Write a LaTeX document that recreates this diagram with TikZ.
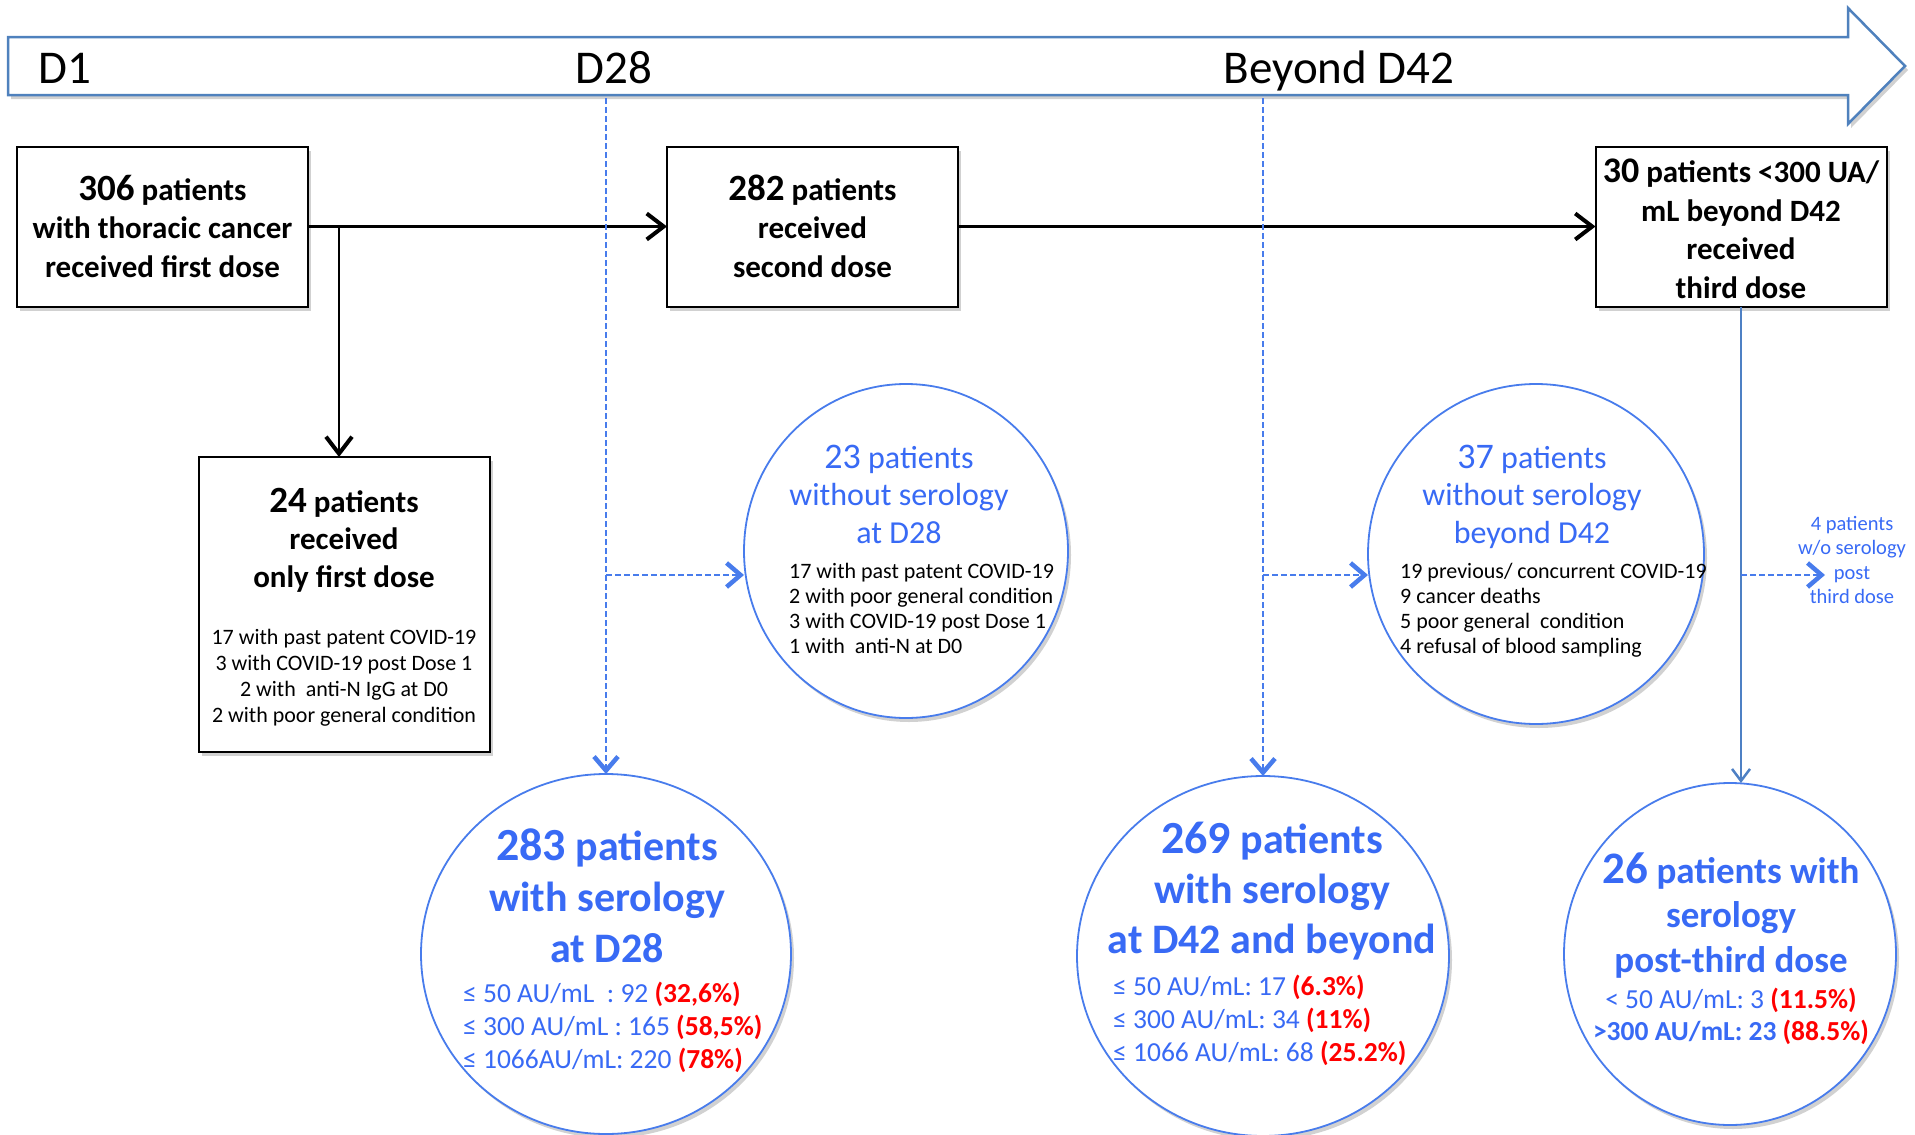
\documentclass[tikz,border=0pt]{standalone}
\usepackage{fontspec}
\setmainfont{Carlito}
\usetikzlibrary{arrows.meta,shapes.geometric,shadows}

\definecolor{tblue}{RGB}{56,106,245}
\definecolor{ringblue}{RGB}{72,124,236}
\definecolor{steel}{RGB}{79,129,189}
\definecolor{pct}{RGB}{255,0,0}

\newcommand\setsz[2]{\fontsize{#1}{#2}\selectfont}
\newcommand\pc[1]{\textcolor{pct}{\textbf{#1}}}

% multi-line labels sit on the baseline of their last line
\tikzset{
  softshadow/.style={drop shadow={shadow xshift=3pt, shadow yshift=-4pt, opacity=.18, fill=black}},
  box/.style={draw, line width=2pt, fill=white, minimum width=291pt, minimum height=160pt,
    inner sep=0pt, outer sep=0pt, softshadow},
  ring/.style={ellipse, draw=ringblue, line width=1.8pt, fill=white, inner sep=0pt, outer sep=0pt, softshadow},
  lbl/.style={inner sep=0pt, anchor=base, align=center},
  boxtext/.style={lbl, font=\bfseries\setsz{31}{38.5}},
  flow/.style={line width=2.5pt, -{Straight Barb[length=17pt,width=26pt,line width=4pt]}},
  dashlink/.style={ringblue, line width=1.6pt, dash pattern=on 6pt off 3pt,
    -{Straight Barb[length=14pt,width=24pt,line width=4.5pt]}},
  steellink/.style={steel!85!ringblue, line width=2pt, -{Straight Barb[length=12pt,width=18pt,line width=2.5pt]}},
}

\begin{document}
\begin{tikzpicture}[x=1pt,y=-1pt]
\useasboundingbox (0,0) rectangle (1915,1135);

% time line
\draw[steel, line width=2.5pt, fill=white, softshadow] (8,37) -- (1848,37) -- (1848,8) -- (1905,66)
  -- (1848,124) -- (1848,95) -- (8,95) -- cycle;
\node[lbl, anchor=base west, font=\setsz{47}{56}] (d1) at (38,83) {D1};
\node[lbl, font=\setsz{47}{56}] (d28) at (614,83) {D28};
\node[lbl, font=\setsz{47}{56}] (d42) at (1339,83) {Beyond D42};

% boxes
\node[box] (b306) at (162.5,226.5) {};
\node[box] (b282) at (812.5,226.5) {};
\node[box] (b30) at (1741,226.5) {};
\node[box, minimum height=295pt] (b24) at (344.5,604.5) {};

% circles
\node[ring, minimum width=324pt, minimum height=334pt] (c23) at (906,551) {};
\node[ring, minimum width=336pt, minimum height=340pt] (c37) at (1536,554) {};
\node[ring, minimum width=370pt, minimum height=360pt] (c283) at (606,954) {};
\node[ring, minimum width=372pt, minimum height=360pt] (c269) at (1263,956) {};
\node[ring, minimum width=332pt, minimum height=342pt] (c26) at (1730,954) {};

% connectors
\coordinate (split) at (339,0);
\draw[flow] (b306.east) -- (b282.west);
\draw[flow] (split |- b306.east) -- (split |- b24.north);
\draw[flow] (b282.east) -- (b30.west);

\coordinate (top28) at (606,98);
\coordinate (mid28) at (606,575);
\coordinate (top42) at (1263,98);
\coordinate (mid42) at (1263,575);
\coordinate (mid3) at (1741,575);
\coordinate (tip4) at (1825,575);
\draw[dashlink] (top28) -- (top28 |- c283.north);
\draw[dashlink] (mid28) -- (mid28 -| c23.west);
\draw[dashlink] (top42) -- (top42 |- c269.north);
\draw[dashlink] (mid42) -- (mid42 -| c37.west);
\draw[steellink] (b30.south) -- (b30.south |- c26.north);
\draw[dashlink] (mid3) -- (tip4);

% texts
\node[boxtext] (t306) at (162.5,277) {{\setsz{37}{38.5}306} patients\\with thoracic cancer\\received first dose};
\node[boxtext] (t282) at (812.5,277) {{\setsz{37}{38.5}282} patients\\received\\second dose};
\node[boxtext] (t30) at (1741,298) {{\setsz{36}{38.5}30} patients <300 UA/\\mL beyond D42\\received\\third dose};

\node[lbl, font=\bfseries\setsz{31}{37.5}] (t24) at (344,587) {{\setsz{37}{37.5}24} patients\\received\\only first dose};
\node[lbl, font=\setsz{22}{25.7}] (n24) at (344,722) {17 with past patent COVID-19\\3 with COVID-19 post Dose 1\\2 with\ \ anti-N IgG at D0\\2 with poor general condition};

\node[lbl, text=tblue, font=\setsz{32}{37.5}] (t23) at (899,543) {{\setsz{36}{37.5}23} patients\\without serology\\at D28};
\node[lbl, anchor=base west, align=left, font=\setsz{22}{25}] (n23) at (789,653) {17 with past patent COVID-19\\2 with poor general condition\\3 with COVID-19 post Dose 1\\1 with\ \ anti-N at D0};

\node[lbl, text=tblue, font=\setsz{32}{37.5}] (t37) at (1532,543) {{\setsz{36}{37.5}37} patients\\without serology\\beyond D42};
\node[lbl, anchor=base west, align=left, font=\setsz{22}{25}] (n37) at (1400,653) {19 previous/ concurrent COVID-19\\9 cancer deaths\\5 poor general\ \ condition\\4 refusal of blood sampling};

\node[lbl, text=tblue, font=\setsz{20.5}{24.5}] (n4) at (1852,603.5) {4 patients\\w/o serology\\post\\third dose};

\node[lbl, text=tblue, font=\bfseries\setsz{42}{51}] (t283) at (607,962) {{\setsz{46}{51}283} patients\\with serology\\at D28};
\node[lbl, anchor=base west, align=left, text=tblue, font=\setsz{27.5}{33}] (n283) at (463,1068) {≤ 50 AU/mL\ \ : 92 \pc{(32,6\%)}\\≤ 300 AU/mL : 165 \pc{(58,5\%)}\\≤ 1066AU/mL: 220 \pc{(78\%)}};

\node[lbl, text=tblue, font=\bfseries\setsz{42}{50}] (t269) at (1272,953) {{\setsz{46}{50}269} patients\\with serology\\at D42 and beyond};
\node[lbl, anchor=base west, align=left, text=tblue, font=\setsz{27.5}{33}] (n269) at (1113,1061) {≤ 50 AU/mL: 17 \pc{(6.3\%)}\\≤ 300 AU/mL: 34 \pc{(11\%)}\\≤ 1066 AU/mL: 68 \pc{(25.2\%)}};

\node[lbl, text=tblue, font=\bfseries\setsz{37}{44.5}] (t26) at (1731,972) {{\setsz{45}{44.5}26} patients with\\serology\\post-third dose};
\node[lbl, text=tblue, font=\setsz{27.5}{32}] (n26) at (1731,1040) {< 50 AU/mL: 3 \pc{(11.5\%)}\\\textbf{>300 AU/mL: 23} \pc{(88.5\%)}};
\end{tikzpicture}
\end{document}
